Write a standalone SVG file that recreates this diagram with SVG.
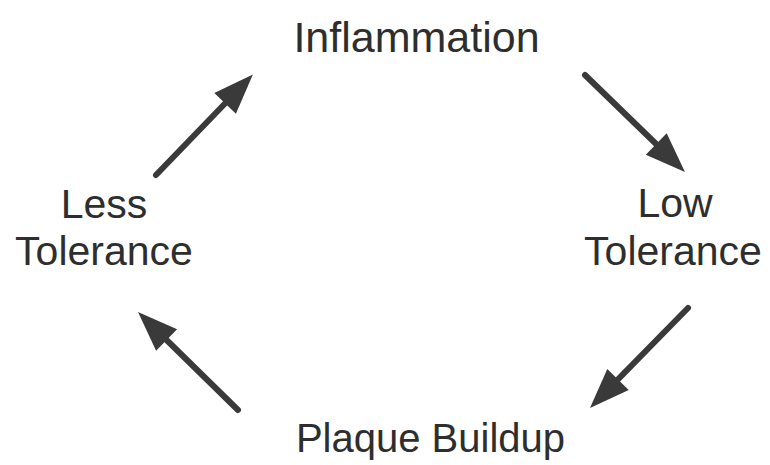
<svg xmlns="http://www.w3.org/2000/svg" width="770" height="465" viewBox="0 0 770 465">
<style>
.lbl{font-family:"Liberation Sans",Arial,sans-serif;font-size:41px;fill:#2e2e2e;text-anchor:middle}
.arr{stroke:#3a3a3a;stroke-width:6;stroke-linecap:round;fill:none;marker-end:url(#head)}
</style>
<defs>
<marker id="head" markerUnits="userSpaceOnUse" markerWidth="42" markerHeight="32" refX="20" refY="15" orient="auto" overflow="visible">
<path d="M0,0 L40,15 L0,30 Z" fill="#3a3a3a"/>
</marker>
</defs>
<rect width="770" height="465" fill="#fff"/>
<g id="inflammation"><text class="lbl" x="416.5" y="52" style="font-size:43px">Inflammation</text></g>
<g id="low-tolerance"><text class="lbl" x="675" y="217">Low</text><text class="lbl" x="673" y="265">Tolerance</text></g>
<g id="plaque-buildup"><text class="lbl" x="430.5" y="452" style="font-size:40px">Plaque Buildup</text></g>
<g id="less-tolerance"><text class="lbl" x="104" y="218">Less</text><text class="lbl" x="104" y="265">Tolerance</text></g>
<g id="connectors">
<line class="arr" x1="156" y1="175" x2="239" y2="89"/>
<line class="arr" x1="585" y1="75" x2="670.6" y2="158"/>
<line class="arr" x1="688" y1="308" x2="604" y2="393.7"/>
<line class="arr" x1="238" y1="410" x2="152.3" y2="326"/>
</g>
</svg>
